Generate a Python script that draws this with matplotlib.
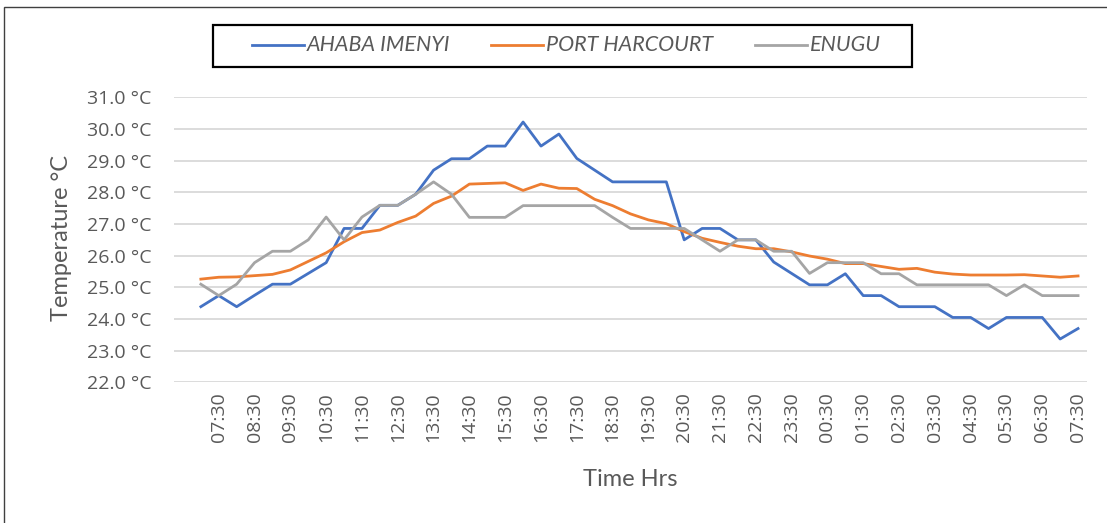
import matplotlib
matplotlib.use("Agg")
import matplotlib.pyplot as plt
from matplotlib.lines import Line2D
from matplotlib.patches import Rectangle

tick_labels = ["07:30", "08:30", "09:30", "10:30", "11:30", "12:30", "13:30", "14:30",
               "15:30", "16:30", "17:30", "18:30", "19:30", "20:30", "21:30", "22:30",
               "23:30", "00:30", "01:30", "02:30", "03:30", "04:30", "05:30", "06:30", "07:30"]

ahaba_imenyi = [24.39, 24.74, 24.39, 24.75, 25.10, 25.10, 25.44, 25.78, 26.86, 26.86,
                27.59, 27.59, 27.94, 28.70, 29.06, 29.06, 29.46, 29.46, 30.22, 29.46,
                29.84, 29.07, 28.70, 28.33, 28.33, 28.33, 28.33, 26.50, 26.86, 26.86,
                26.50, 26.50, 25.80, 25.44, 25.08, 25.08, 25.43, 24.74, 24.74, 24.39,
                24.39, 24.39, 24.05, 24.05, 23.70, 24.05, 24.05, 24.05, 23.37, 23.70]

port_harcourt = [25.26, 25.32, 25.33, 25.37, 25.41, 25.55, 25.82, 26.09, 26.44, 26.73,
                 26.81, 27.05, 27.25, 27.65, 27.88, 28.26, 28.28, 28.30, 28.06, 28.26,
                 28.13, 28.12, 27.78, 27.58, 27.32, 27.13, 27.01, 26.76, 26.55, 26.42,
                 26.30, 26.22, 26.22, 26.12, 25.99, 25.89, 25.75, 25.75, 25.66, 25.57,
                 25.60, 25.48, 25.42, 25.39, 25.39, 25.39, 25.40, 25.36, 25.32, 25.36]

enugu = [25.10, 24.74, 25.10, 25.78, 26.14, 26.14, 26.50, 27.22, 26.50, 27.22,
         27.59, 27.59, 27.94, 28.33, 27.94, 27.21, 27.21, 27.21, 27.58, 27.58,
         27.58, 27.58, 27.58, 27.21, 26.86, 26.86, 26.86, 26.86, 26.50, 26.14,
         26.50, 26.50, 26.14, 26.14, 25.44, 25.78, 25.78, 25.78, 25.43, 25.43,
         25.08, 25.08, 25.08, 25.08, 25.08, 24.74, 25.08, 24.74, 24.74, 24.74]

series_names = ["AHABA IMENYI", "PORT HARCOURT", "ENUGU"]
colors = ["#4472C4", "#ED7D31", "#A5A5A5"]
yticks = [22, 23, 24, 25, 26, 27, 28, 29, 30, 31]

W, H = 1107, 523
fig = plt.figure(figsize=(W / 100, H / 100), dpi=100)
ax = fig.add_axes([174 / W, 1 - 382.4 / H, (1087 - 174) / W, (382.4 - 97.3) / H])

x = list(range(1, len(ahaba_imenyi) + 1))
for vals, c, name in zip([ahaba_imenyi, port_harcourt, enugu], colors, series_names):
    ax.plot(x, vals, color=c, lw=2.0, label=name, solid_joinstyle="round")

ax.set_xlim(-0.5, len(x) + 0.5)
ax.set_ylim(22, 31)
ax.set_yticks(yticks)
ax.set_yticklabels([f"{v:.1f} °C" for v in yticks], family="Open Sans", fontsize=14, color="#595959")
ax.set_xticks(list(range(2, len(x) + 1, 2)))
ax.set_xticklabels(tick_labels, rotation=90, family="Open Sans", fontsize=14, color="#595959")
ax.tick_params(axis="y", length=0, pad=16)
ax.tick_params(axis="x", length=0, pad=7)
ax.grid(axis="y", color="#D9D9D9", lw=1.3)
ax.set_axisbelow(True)
for s in ax.spines.values():
    s.set_visible(False)

fig.text(630 / W, 1 - 480 / H, "Time Hrs", family="Lato", fontsize=17, color="#595959", ha="center", va="center")
fig.text(62 / W, 1 - 238 / H, "Temperature °C", family="Lato", fontsize=17, color="#595959",
         ha="center", va="center", rotation=90)

# outer chart border
fig.patches.append(Rectangle((4 / W, -0.01), 1.1, 1 - 7 / H + 0.01, transform=fig.transFigure,
                             fill=False, ec="#404040", lw=1.0))
# legend box
fig.patches.append(Rectangle((213 / W, 1 - 67 / H), (912 - 213) / W, (67 - 25) / H,
                             transform=fig.transFigure, fill=False, ec="black", lw=1.6))
leg_items = [(252, 307), (491, 546), (755, 810)]
for (lx, tx), c, name in zip(leg_items, colors, series_names):
    fig.add_artist(Line2D([lx / W, (lx + 52) / W], [1 - 45 / H, 1 - 45 / H], color=c, lw=2.0,
                          transform=fig.transFigure))
    fig.text(tx / W, 1 - 45 / H, name, family="Lato", style="italic", fontsize=15.5,
             color="#595959", ha="left", va="center")

fig.savefig("out.png", dpi=100)
